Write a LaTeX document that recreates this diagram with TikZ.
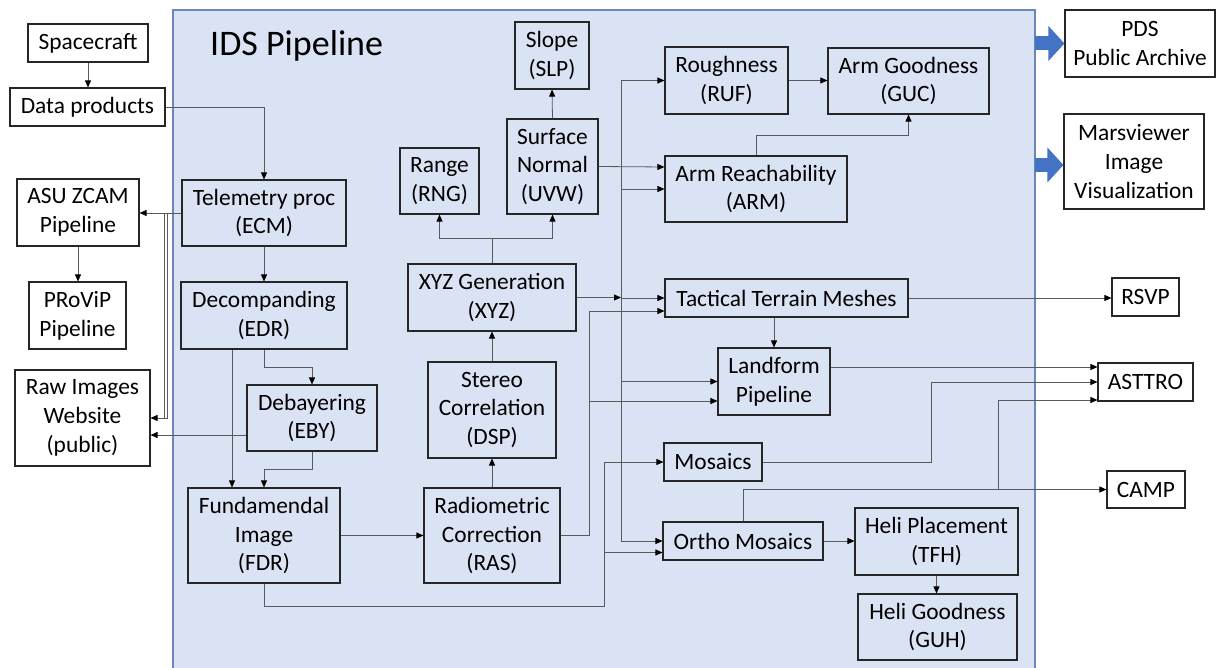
\documentclass[tikz,border=0pt]{standalone}
\usepackage{fontspec}
\setmainfont{Carlito}
\usetikzlibrary{arrows.meta,calc}
\definecolor{pipefill}{HTML}{DAE3F3}
\definecolor{pipeedge}{HTML}{6A87B8}
\definecolor{linegray}{HTML}{5A5A5A}
\definecolor{boxedge}{HTML}{262626}
\definecolor{blockblue}{HTML}{4472C4}
\tikzset{
  box/.style={draw=boxedge, line width=1.1pt, inner sep=0pt, align=center,
    font=\fontsize{23.4}{28.8}\selectfont},
  wbox/.style={box, fill=white},
  conn/.style={draw=linegray, line width=0.8pt},
  arr/.style={conn, -{Triangle[length=7pt,width=6pt,fill=black,color=black]}},
  blockarr/.style={draw=blockblue, line width=14pt, -{Triangle[length=16pt,width=34pt]}},
}
\begin{document}
\begin{tikzpicture}[x=1pt,y=-1pt]
\useasboundingbox (0,0) rectangle (1218,668);
% pipeline area
\draw[fill=pipefill, draw=pipeedge, line width=1.5pt] (173,10) rectangle (1035,690);
\node[anchor=base west, font=\fontsize{36}{43}\selectfont, inner sep=0pt] (title) at (210,56) {IDS Pipeline};

% outside boxes
\node[wbox, minimum width=120pt, minimum height=38pt] (sc) at (88,43) {Spacecraft};
\node[wbox, minimum width=155pt, minimum height=38pt] (dp) at (87.5,107) {Data products};
\node[wbox, minimum width=122pt, minimum height=67pt] (asu) at (78,212.5) {ASU ZCAM\\Pipeline};
\node[wbox, minimum width=97pt, minimum height=67pt] (pro) at (77.5,315.5) {PRoViP\\Pipeline};
\node[wbox, minimum width=135pt, minimum height=96pt] (raw) at (82.5,418) {Raw Images\\Website\\(public)};
\node[wbox, minimum width=150pt, minimum height=67pt] (pds) at (1140,43.5) {PDS\\Public Archive};
\node[wbox, minimum width=140pt, minimum height=95pt] (mv) at (1134,161.5) {Marsviewer\\Image\\Visualization};
\node[wbox, minimum width=67pt, minimum height=38pt] (rsvp) at (1145.5,297) {RSVP};
\node[wbox, minimum width=95pt, minimum height=38pt] (ast) at (1145.5,382) {ASTTRO};
\node[wbox, minimum width=78pt, minimum height=37pt] (camp) at (1146,489.5) {CAMP};

% pipeline boxes
\node[box, minimum width=164pt, minimum height=66pt] (ecm) at (264,213) {Telemetry proc\\(ECM)};
\node[box, minimum width=166pt, minimum height=67pt] (edr) at (264,315.5) {Decompanding\\(EDR)};
\node[box, minimum width=130pt, minimum height=66pt] (eby) at (312,418) {Debayering\\(EBY)};
\node[box, minimum width=152pt, minimum height=95pt] (fdr) at (264,535.5) {Fundamendal\\Image\\(FDR)};
\node[box, minimum width=136pt, minimum height=95pt] (ras) at (492,535.5) {Radiometric\\Correction\\(RAS)};
\node[box, minimum width=128pt, minimum height=96pt] (dsp) at (492,410) {Stereo\\Correlation\\(DSP)};
\node[box, minimum width=168pt, minimum height=67pt] (xyz) at (492,297.5) {XYZ Generation\\(XYZ)};
\node[box, minimum width=79pt, minimum height=66pt] (rng) at (439.5,181) {Range\\(RNG)};
\node[box, minimum width=91pt, minimum height=95pt] (uvw) at (552.5,166.5) {Surface\\Normal\\(UVW)};
\node[box, minimum width=74pt, minimum height=67pt] (slp) at (552,55.5) {Slope\\(SLP)};
\node[box, minimum width=123pt, minimum height=67pt] (ruf) at (726.5,80.5) {Roughness\\(RUF)};
\node[box, minimum width=161pt, minimum height=66pt] (guc) at (908.5,81) {Arm Goodness\\(GUC)};
\node[box, minimum width=182pt, minimum height=66pt] (arm) at (756,189) {Arm Reachability\\(ARM)};
\node[box, minimum width=243pt, minimum height=38pt] (ttm) at (786.5,298) {Tactical Terrain Meshes};
\node[box, minimum width=112pt, minimum height=67pt] (lnd) at (774,381.5) {Landform\\Pipeline};
\node[box, minimum width=98pt, minimum height=38pt] (mos) at (713,462) {Mosaics};
\node[box, minimum width=160pt, minimum height=38pt] (orth) at (743,541) {Ortho Mosaics};
\node[box, minimum width=163pt, minimum height=67pt] (tfh) at (936.5,541.5) {Heli Placement\\(TFH)};
\node[box, minimum width=159pt, minimum height=66pt] (guh) at (937.5,627) {Heli Goodness\\(GUH)};

% helper coordinates
\coordinate (v1) at (167,0);
\coordinate (v2) at (164,0);
\coordinate (c232) at (232,0);
\coordinate (bus1) at (621,0);
\coordinate (b2) at (589,0);
\coordinate (b3) at (604,606);
\coordinate (c931) at (931,0);
\coordinate (c998) at (998,0);
\coordinate (pe) at (1035,0);
\coordinate (ebyout) at ($(eby.west)+(0,17)$);
\coordinate (ttmin2) at ($(ttm.west)+(0,13)$);
\coordinate (lndin2) at ($(lnd.west)+(0,19.5)$);
\coordinate (orthin2) at ($(orth.west)+(0,11.5)$);
\coordinate (lndout) at ($(lnd.east)+(0,-14.5)$);
\coordinate (astin3) at ($(ast.west)+(0,18)$);
\coordinate (astin1) at ($(ast.west)+(0,-15)$);
\coordinate (arminup) at ($(arm.west)+(0,-22)$);

% block arrows
\draw[blockarr] (pe |- pds.west) -- (pds.west);
\draw[blockarr] (pe |- 0,165) -- (mv.west |- 0,165);

% left side connectors
\draw[arr] (sc.south) -- (sc.south |- dp.north);
\draw[arr] (dp.east) -| (ecm.north);
\draw[arr] (ecm.west) -- (ecm.west -| asu.east);
\draw[arr] (asu.south) -- (asu.south |- pro.north);
\draw[conn] (v2 |- ecm.west) -- (v2 |- raw.east) -- (v1 |- raw.east);
\draw[arr] (v1 |- ecm.west) -- (v1 |- raw.east) -- (raw.east);
\draw[arr] (ebyout) -- (ebyout -| raw.east);
\draw[arr] (ecm.south) -- (edr.north);
\draw[arr] (c232 |- edr.south) -- (c232 |- fdr.north);
\draw[arr] (edr.south) -- ++(0,18) -| (eby.north);
\draw[arr] (eby.south) -- ++(0,18) -| (fdr.north);
\draw[arr] (fdr.east) -- (ras.west);
\draw[arr] (ras.north) -- (dsp.south);
\draw[arr] (dsp.north) -- (xyz.south);
\draw[arr] (xyz.north) -- ++(0,-25) -| (rng.south);
\draw[arr] (xyz.north) -- ++(0,-25) -| (uvw.south);
\draw[arr] (uvw.north) -- (slp.south);
\draw[arr] (uvw.east) -- (arminup);

% bus from XYZ
\draw[arr] (xyz.east) -- (bus1 |- xyz.east);
\draw[conn] (bus1 |- ruf.west) -- (bus1 |- orth.west);
\draw[arr] (bus1 |- ttm.west) -- (ttm.west);
\draw[arr] (bus1 |- ruf.west) -- (ruf.west);
\draw[arr] (bus1 |- arm.west) -- (arm.west);
\draw[arr] (bus1 |- lnd.west) -- (lnd.west);
\draw[arr] (bus1 |- orth.west) -- (orth.west);

% bus from RAS
\draw[arr] (ras.east) -| (b2 |- ttmin2) -- (ttmin2);
\draw[arr] (b2 |- lndin2) -- (lndin2);

% bus from FDR
\draw[arr] (fdr.south) |- (b3) -- (b3 |- mos.west) -- (mos.west);
\draw[arr] (b3 |- orthin2) -- (orthin2);

% right part
\draw[arr] (ruf.east) -- (ruf.east -| guc.west);
\draw[arr] (arm.north) -- ++(0,-20) -| (guc.south);
\draw[arr] (lnd.north |- ttm.south) -- (lnd.north);
\draw[arr] (ttm.east) -- (ttm.east -| rsvp.west);
\draw[arr] (lndout) -- (astin1);
\draw[arr] (mos.east) -| (c931 |- ast.west) -- (ast.west);
\draw[arr] (orth.north) |- (camp.west);
\draw[arr] (c998 |- camp.west) |- (astin3);
\draw[arr] (orth.east) -- (orth.east -| tfh.west);
\draw[arr] (tfh.south) -- (tfh.south |- guh.north);
\end{tikzpicture}
\end{document}
